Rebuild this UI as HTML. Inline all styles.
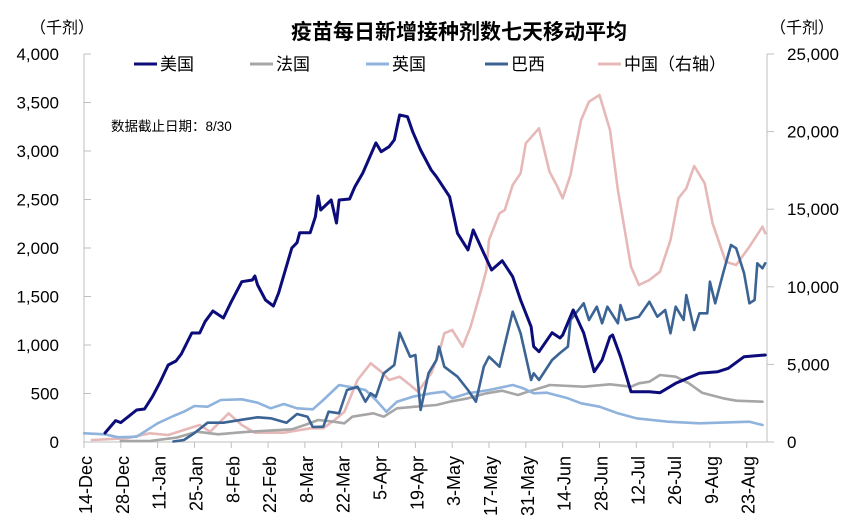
<!DOCTYPE html>
<html><head><meta charset="utf-8">
<style>
html,body{margin:0;padding:0;background:#fff;}
svg{display:block;font-family:"Liberation Sans","Noto Sans CJK SC",sans-serif;}
</style></head>
<body>
<svg id="chart" width="858" height="530" viewBox="0 0 858 530">
<text x="459" y="39" text-anchor="middle" font-size="21" font-weight="bold" fill="#000">疫苗每日新增接种剂数七天移动平均</text>
<text x="30" y="33" font-size="16" fill="#000">（千剂）</text>
<text x="770" y="33" font-size="16" fill="#000">（千剂）</text>
<text x="111" y="131" font-size="13.5" fill="#000">数据截止日期：8/30</text>
<g id="legend"></g>
<g id="axes"></g>
<g id="series"></g>
</svg>
<script>
const xTickLabels = ["14-Dec","28-Dec","11-Jan","25-Jan","8-Feb","22-Feb","8-Mar","22-Mar","5-Apr","19-Apr","3-May","17-May","31-May","14-Jun","28-Jun","12-Jul","26-Jul","9-Aug","23-Aug"];
const leftTicks = [0,500,1000,1500,2000,2500,3000,3500,4000];
const rightTicks = [0,5000,10000,15000,20000,25000];

const usDays = [8,12,14,20,23,26,29,32,35,37,41,44,46,49,53,56,60,64,65,66,69,72,74,79,81,82,86,88,89,90,94,96,97,101,103,106,111,113,116,118,120,123,125,128,132,134,139,142,146,148,152,155,159,163,166,170,171,173,178,181,182,186,190,194,197,200,201,204,208,215,219,225,234,241,245,251,259];
const usVals = [93,221,200,330,340,467,622,794,835,907,1124,1124,1240,1350,1278,1446,1653,1670,1711,1619,1464,1402,1536,2000,2055,2158,2158,2323,2536,2392,2495,2258,2495,2505,2632,2773,3083,2993,3044,3114,3371,3354,3199,3010,2804,2735,2529,2152,1980,2186,1946,1773,1869,1704,1464,1189,983,931,1127,1072,1103,1361,1124,725,845,1086,1103,879,519,519,508,605,708,725,760,879,897];

const frDays = [14,25,35,43,51,58,63,79,84,89,95,99,102,110,114,119,126,134,139,146,153,159,165,170,176,177,190,200,208,211,215,219,225,230,235,243,248,258];
const frVals = [10,10,44,106,79,96,106,131,175,227,209,193,261,296,261,347,364,381,415,451,502,529,485,529,577,588,570,595,570,605,622,691,673,605,508,451,426,415];

const ukDays = [0,8,13,20,28,34,38,42,47,52,60,66,71,76,81,87,91,95,97,104,107,111,115,119,125,132,137,140,146,154,163,167,171,176,184,189,196,203,210,222,234,253,258];
const ukVals = [90,79,48,55,193,268,312,371,364,433,440,405,347,392,347,337,433,536,588,554,536,433,312,415,467,502,519,451,502,536,588,554,502,508,451,399,364,296,244,209,193,209,175];

const brDays = [34,38,42,47,53,61,66,71,77,81,85,87,91,93,97,100,104,107,109,111,114,118,120,124,126,128,131,134,135,137,142,146,149,152,154,158,163,166,170,171,173,178,181,184,185,190,192,195,197,199,203,204,206,211,215,218,221,223,225,228,229,232,234,237,238,240,243,246,248,251,253,255,256,258,259];
const brVals = [5,21,93,199,199,234,255,244,199,289,261,155,158,312,296,536,570,415,502,467,708,794,1127,879,897,330,708,845,983,776,673,536,415,776,879,776,1343,1121,639,708,639,845,918,983,1258,1430,1258,1395,1224,1395,1224,1412,1258,1292,1446,1292,1361,1121,1395,1258,1515,1155,1327,1327,1653,1430,1739,2031,1997,1739,1430,1464,1842,1791,1842];

const cnDays = [3,16,25,32,38,44,48,55,60,65,76,86,91,95,99,104,109,113,116,120,124,127,132,135,137,140,144,147,151,153,154,158,160,163,166,168,173,177,180,182,185,187,189,192,196,200,203,208,211,215,219,223,226,229,232,236,239,244,248,253,258,259];
const cnVals = [129,238,561,451,773,1095,664,1849,1095,599,599,883,883,1372,1952,3995,5071,4529,3995,4207,3673,3241,4426,5715,7004,7216,6140,7429,9793,11082,13015,14735,14948,16559,17312,19245,20212,17415,16449,15702,17203,19026,20746,21926,22357,20102,16236,11295,10115,10438,10972,13015,15702,16346,17783,16668,14091,11617,11404,12583,13872,13447];

const NS = "http://www.w3.org/2000/svg";
const X0 = 84, X1 = 767, Y0 = 442, Y1 = 54, DAYS = 259.7;
const xs = d => X0 + d * (X1 - X0) / DAYS;
const yl = v => Y0 - v / 4000 * (Y0 - Y1);
const yr = v => Y0 - v / 25000 * (Y0 - Y1);
function mk(tag, attrs, parent) {
  const e = document.createElementNS(NS, tag);
  for (const k in attrs) e.setAttribute(k, attrs[k]);
  parent.appendChild(e);
  return e;
}
const axes = document.getElementById('axes');
const axc = "#bfbfbf";
let e;
e = mk('line', {x1: X0, y1: Y1, x2: X0, y2: Y0, stroke: axc, 'stroke-width': 1}, axes);


e = mk('line', {x1: X1, y1: Y1, x2: X1, y2: Y0, stroke: axc, 'stroke-width': 1}, axes);


e = mk('line', {x1: X0, y1: Y0, x2: X1, y2: Y0, stroke: axc, 'stroke-width': 1}, axes);


leftTicks.forEach(v => {
  const y = yl(v);
  let t = mk('line', {x1: X0, y1: y, x2: X0 + 7, y2: y, stroke: axc}, axes);
  
  
  let l = mk('text', {x: 59, y: y + 6, 'text-anchor': 'end', 'font-size': 17, fill: '#000'}, axes);
  l.textContent = v.toLocaleString('en-US');
  
  
});
rightTicks.forEach(v => {
  const y = yr(v);
  let t = mk('line', {x1: X1, y1: y, x2: X1 + 7, y2: y, stroke: axc}, axes);
  
  
  let l = mk('text', {x: 787, y: y + 6, 'font-size': 17, fill: '#000'}, axes);
  l.textContent = v.toLocaleString('en-US');
  
  
});
xTickLabels.forEach((lab, i) => {
  const x = xs(i * 14);
  let t = mk('line', {x1: x, y1: Y0, x2: x, y2: Y0 + 6, stroke: axc}, axes);
  
  
  let l = mk('text', {x: 0, y: 0, 'text-anchor': 'end', 'font-size': 18, fill: '#000', transform: `translate(${x + 8},456) rotate(-90)`}, axes);
  l.textContent = lab;
  
  
});
const series = document.getElementById('series');
function line(days, vals, yf, color, w, name) {
  const d = days.map((dd, i) => (i ? 'L' : 'M') + xs(dd).toFixed(1) + ',' + yf(vals[i]).toFixed(1)).join('');
  const p = mk('path', {d: d, fill: 'none', stroke: color, 'stroke-width': w, 'stroke-linejoin': 'round', 'stroke-linecap': 'round'}, series);
  
  
}
line(cnDays, cnVals, yr, '#e6b9b8', 2.6, 'china-line');
line(frDays, frVals, yl, '#a6a6a6', 2.6, 'france-line');
line(ukDays, ukVals, yl, '#8fb3dd', 2.6, 'uk-line');
line(brDays, brVals, yl, '#3b6494', 2.6, 'brazil-line');
line(usDays, usVals, yl, '#0b0b7a', 3, 'us-line');
const legend = document.getElementById('legend');
const legItems = [["美国", "#0b0b7a", 134], ["法国", "#a6a6a6", 250], ["英国", "#8fb3dd", 366], ["巴西", "#3b6494", 485], ["中国（右轴）", "#e6b9b8", 598]];
legItems.forEach(it => {
  let l = mk('line', {x1: it[2], y1: 64, x2: it[2] + 23, y2: 64, stroke: it[1], 'stroke-width': 3}, legend);
  
  
  let t = mk('text', {x: it[2] + 26, y: 70, 'font-size': 17, fill: '#000'}, legend);
  t.textContent = it[0];
  
  
});
</script>
</body></html>
